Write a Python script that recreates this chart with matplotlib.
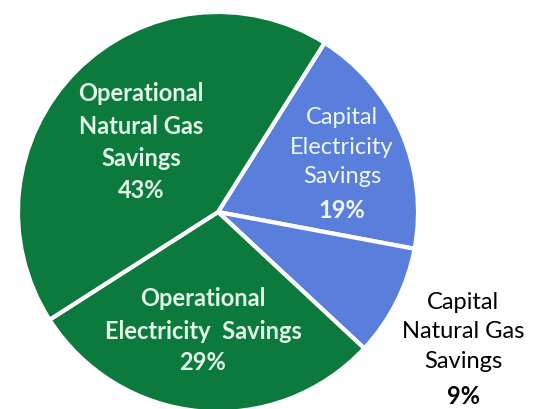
import matplotlib.pyplot as plt

# slices, clockwise from the upper right
labels = ["Capital\nElectricity\nSavings", "Capital\nNatural Gas\nSavings",
          "Operational\nElectricity  Savings", "Operational\nNatural Gas\nSavings"]
shares = [19, 9, 29, 43]
colors = ["#5a7edc", "#5a7edc", "#0c7a3c", "#0c7a3c"]

# label centres in pixels (x, y from top) and styles
label_pos = [(342, 163), (463, 348), (203, 331), (141, 142)]
label_col = ["#eef8f0", "black", "#e2f5e8", "#e2f5e8"]
label_wt = ["normal", "normal", "bold", "bold"]
pitch = 32  # line pitch in pixels

W, H = 537, 409
fig = plt.figure(figsize=(W / 100, H / 100), dpi=100)
ax = fig.add_axes([0, 0, 1, 1])
ax.set_aspect("equal")
ax.axis("off")

ax.pie(shares, colors=colors, startangle=57.8, counterclock=False,
       center=(218, H - 212), radius=200,
       wedgeprops=dict(edgecolor="white", linewidth=3))
ax.set_xlim(0, W)
ax.set_ylim(0, H)

for lab, s, (x, y), c, w in zip(labels, shares, label_pos, label_col, label_wt):
    n = lab.count("\n") + 1
    # name lines above, percentage (always bold) on the last line
    ax.text(x, H - (y - pitch / 2), lab, ha="center", va="center",
            color=c, fontweight=w, fontsize=17, family="Lato", linespacing=1.5)
    ax.text(x, H - (y + pitch * n / 2), str(s) + "%", ha="center", va="center",
            color=c, fontweight="bold", fontsize=17, family="Lato")

fig.savefig("out.png", dpi=100)
